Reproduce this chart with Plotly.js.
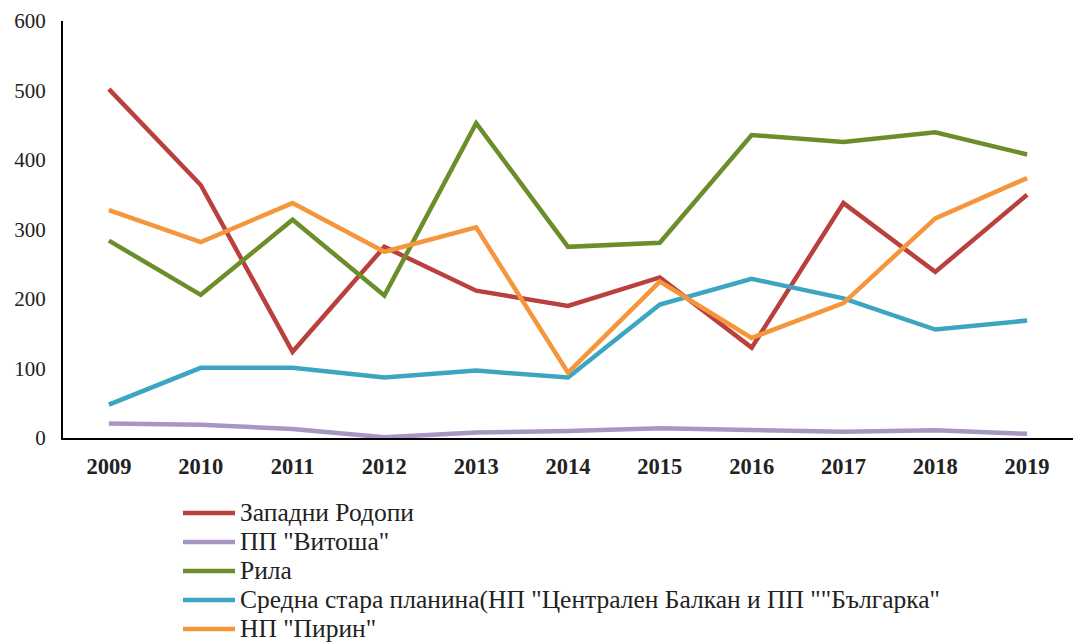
<!DOCTYPE html>
<html>
<head>
<meta charset="utf-8">
<script src="https://cdn.plot.ly/plotly-3.0.1.min.js"></script>
<style>
html,body{margin:0;padding:0;background:#fff;}
#chart{width:1073px;height:644px;}
</style>
</head>
<body>
<div id="chart"></div>
<script>
const years = ['2009','2010','2011','2012','2013','2014','2015','2016','2017','2018','2019'];
const seriesNames = ['Западни Родопи', 'ПП "Витоша"', 'Рила', 'Средна стара планина(НП "Централен Балкан и ПП ""Българка"', 'НП "Пирин"'];
const zapadniRodopi = [502, 364, 124, 275, 212, 190, 231, 130, 338, 239, 350];
const vitosha = [21, 19, 13, 1, 8, 10, 14, 11, 9, 11, 6];
const rila = [284, 206, 314, 205, 453, 275, 281, 436, 426, 440, 408];
const srednaStara = [48, 101, 101, 87, 97, 87, 192, 229, 201, 156, 169];
const pirin = [328, 282, 338, 268, 303, 94, 225, 144, 194, 316, 374];
const colors = ['#B9403D', '#A896C2', '#6B8E2B', '#3CA5C1', '#F5963C'];
const values = [zapadniRodopi, vitosha, rila, srednaStara, pirin];

const serif = 'Liberation Serif';

const traces = values.map((v, i) => ({
  type: 'scatter', mode: 'lines', x: years, y: v,
  name: '<span style="font-size:25.5px">' + seriesNames[i] + '</span>',
  line: {color: colors[i], width: 4.5}
}));

const layout = {
  width: 1073, height: 644,
  margin: {l: 63, r: 0, t: 21, b: 206, autoexpand: false},
  paper_bgcolor: '#fff', plot_bgcolor: '#fff',
  font: {family: serif, color: '#222', size: 20},
  xaxis: {
    type: 'category', range: [-0.5, 10.5], showgrid: false, zeroline: false,
    showline: true, linecolor: '#000', linewidth: 2, ticks: '',
    tickfont: {size: 22.5, color: '#222', family: serif, weight: 700},
    ticklabelstandoff: 7
  },
  yaxis: {
    range: [0, 600], dtick: 100, showgrid: false, zeroline: false,
    showline: true, linecolor: '#000', linewidth: 2, ticks: '',
    tickfont: {size: 21, color: '#222', family: serif}, ticklabelstandoff: 11
  },
  showlegend: true,
  legend: {
    x: (178 - 63) / 1010, y: -0.133, xanchor: 'left', yanchor: 'top', orientation: 'v',
    font: {size: 20, color: '#222', family: serif}, tracegroupgap: 0, itemwidth: 52,
    bgcolor: 'rgba(0,0,0,0)'
  }
};
Plotly.newPlot('chart', traces, layout, {displayModeBar: false, staticPlot: true});
</script>
</body>
</html>
